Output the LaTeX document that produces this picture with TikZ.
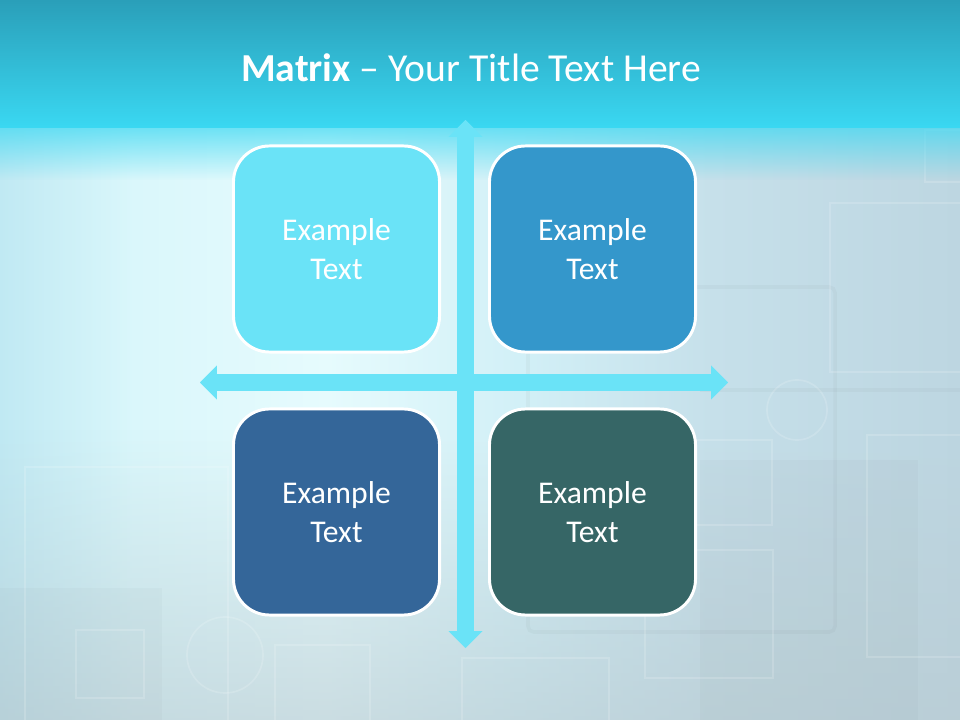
\documentclass[tikz,border=0pt]{standalone}
\usepackage{fontspec}
\setmainfont{Carlito}
\usetikzlibrary{arrows.meta,fadings}
\definecolor{bandtop}{HTML}{2A9FB9}
\definecolor{bandlow}{HTML}{3AD8F2}
\definecolor{bgedge}{HTML}{C0E9F3}
\definecolor{bgsoft}{HTML}{DAF7FB}
\definecolor{bgglow}{HTML}{E6FBFD}
\definecolor{bgmid}{HTML}{D2F0F7}
\definecolor{bgslate}{HTML}{C6E0EA}
\definecolor{bgright}{HTML}{BDD6E1}
\definecolor{bgfloor}{HTML}{B8C9D0}
\definecolor{axiscyan}{HTML}{6AE3F7}
\definecolor{quadcyan}{HTML}{6AE3F7}
\definecolor{quadblue}{HTML}{3497CB}
\definecolor{quadnavy}{HTML}{346699}
\definecolor{quadteal}{HTML}{366666}
\pgfdeclarehorizontalshading{backdrop}{100bp}{color(0bp)=(bgedge); color(25bp)=(bgedge); color(32bp)=(bgsoft); color(42bp)=(bgglow); color(52bp)=(bgmid); color(62bp)=(bgslate); color(75bp)=(bgright); color(100bp)=(bgright)}
\tikzset{
  quadbox/.style={draw=white, line width=2.1pt, rounded corners=0.9cm, minimum width=5.15cm, minimum height=5.15cm, text=white, align=center, font=\fontsize{22.5}{27.5}\selectfont},
  axisarrow/.style={draw=axiscyan, line width=0.44cm, {Triangle[width=0.85cm,length=0.42cm,line width=0pt]}-{Triangle[width=0.85cm,length=0.42cm,line width=0pt]}},
  ghost/.style={draw=white, line width=1.2pt, opacity=0.16},
  shadowpane/.style={fill=bgfloor!60!black, opacity=0.045},
}
\begin{document}
\begin{tikzpicture}[x=0.025cm, y=-0.025cm]
  %%% Page and backdrop
  \useasboundingbox (0,0) rectangle (960,720);
  \shade[shading=backdrop] (0,0) rectangle (960,720);
  \fill[bgfloor, path fading=north, opacity=0.6] (0,430) rectangle (960,720);
  %%% Faint panes and frames behind the matrix
  \path[shadowpane] (0,588) rectangle (162,720);
  \path[shadowpane] (700,460) rectangle (918,720);
  \draw[draw=bgfloor!60!black, line width=2.5pt, opacity=0.06, rounded corners=4pt] (528,287) rectangle (835,632);
  \draw[draw=bgfloor!60!black, line width=2.5pt, opacity=0.06] (700,390) -- (960,390);
  \foreach \xa/\ya/\xb/\yb in {830/203/975/372, 925/130/975/182, 867/435/975/657, 645/550/773/678, 640/440/772/525, 25/467/228/740, 76/630/144/698, 275/645/370/730, 462/658/609/730}
    \draw[ghost] (\xa,\ya) rectangle (\xb,\yb);
  \draw[ghost] (797,410) circle (30);
  \draw[ghost] (225,655) circle (38);
  %%% Title band
  \shade[top color=bandtop, bottom color=bandlow] (0,0) rectangle (960,128);
  \fill[bandlow, path fading=south, opacity=0.7] (0,127) rectangle (960,180);
  \node (title) [anchor=base, text=white, font=\fontsize{28.2}{33}\selectfont] at (471,82) {\textbf{Matrix} -- Your Title Text Here};
  %%% Axes with arrows
  \coordinate (axisN) at (465.5,120);
  \coordinate (axisS) at (465.5,648);
  \coordinate (axisW) at (200,382.5);
  \coordinate (axisE) at (728,382.5);
  \draw[axisarrow] (axisW) -- (axisE);
  \draw[axisarrow] (axisN) -- (axisS);
  %%% Quadrant boxes
  \node (topleft) [quadbox, fill=quadcyan] at (336.5,249) {Example\\Text};
  \node (topright) [quadbox, fill=quadblue] at (592.5,249) {Example\\Text};
  \node (bottomleft) [quadbox, fill=quadnavy] at (336.5,512) {Example\\Text};
  \node (bottomright) [quadbox, fill=quadteal] at (592.5,512) {Example\\Text};
\end{tikzpicture}
\end{document}
